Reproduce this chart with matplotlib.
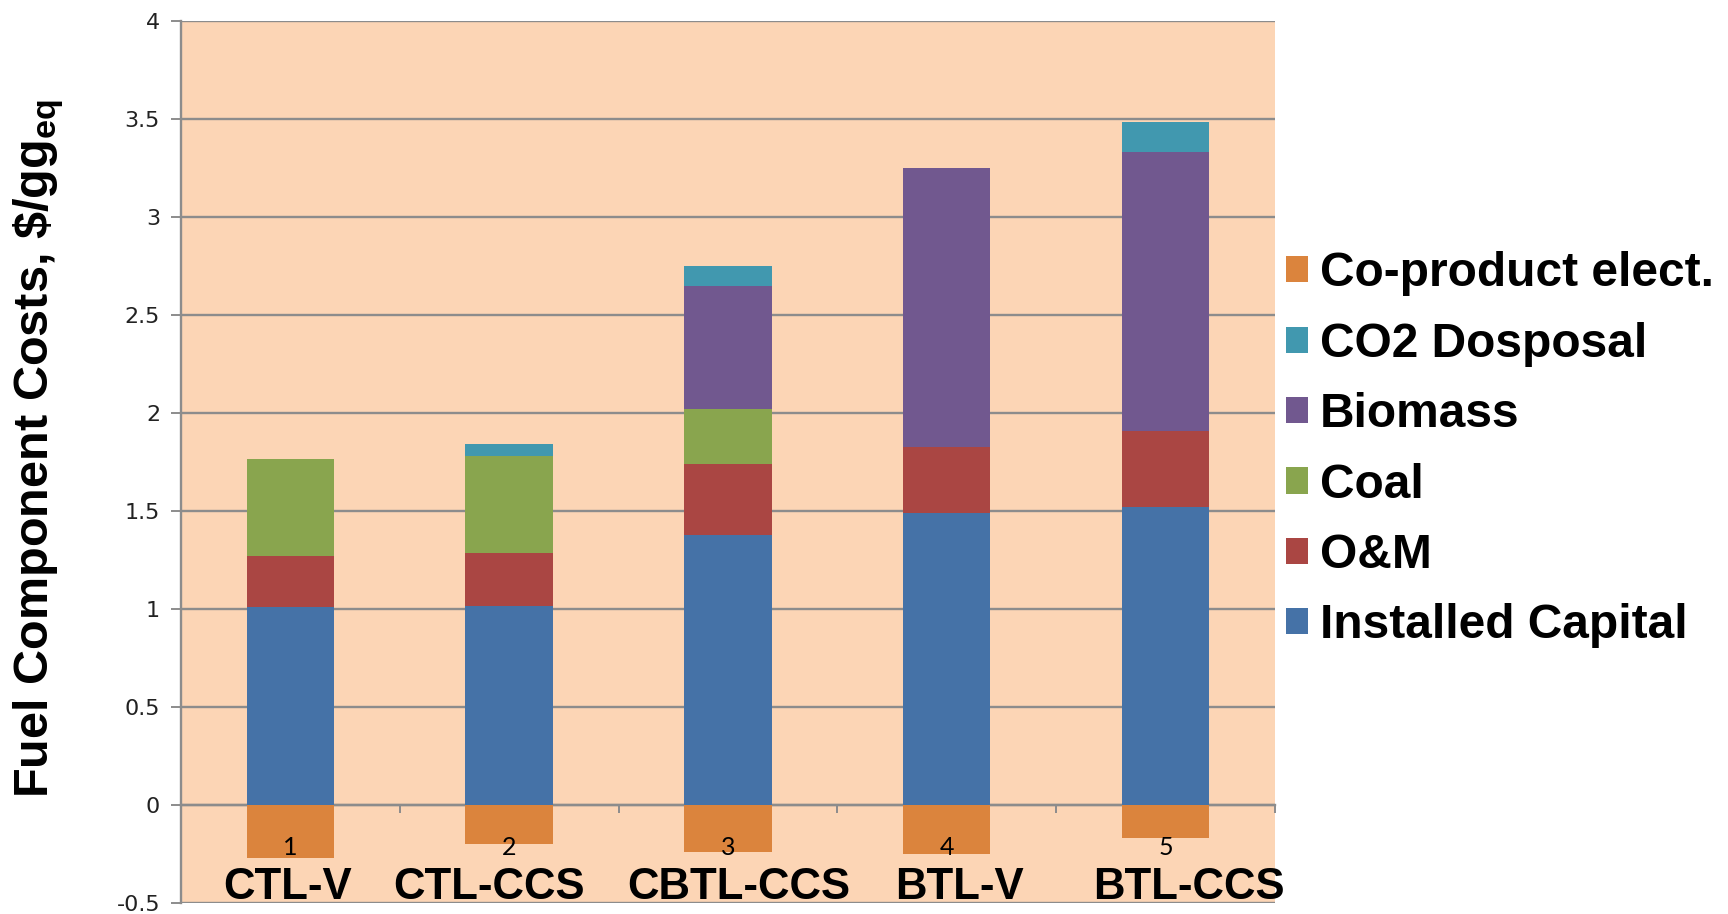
import matplotlib
matplotlib.use("Agg")
import matplotlib.pyplot as plt
from matplotlib import font_manager
from matplotlib.patches import Patch
import numpy as np

# condensed face for the axis title if the system has one
try:
    font_manager.findfont("Liberation Sans Narrow", fallback_to_default=False)
    title_family, title_size = "Liberation Sans Narrow", 41
except ValueError:
    title_family, title_size = "Liberation Sans", 35

plt.rcParams['mathtext.fontset'] = 'custom'
plt.rcParams['mathtext.rm'] = title_family + ':bold'

# fuel pathways and their cost components ($/gge)
pathways = ["CTL-V", "CTL-CCS", "CBTL-CCS", "BTL-V", "BTL-CCS"]
case_numbers = ["1", "2", "3", "4", "5"]

installed_capital = [1.010, 1.017, 1.379, 1.490, 1.518]
o_and_m = [0.260, 0.268, 0.361, 0.338, 0.392]
coal = [0.495, 0.498, 0.283, 0.0, 0.0]
biomass = [0.0, 0.0, 0.626, 1.422, 1.420]
co2_disposal = [0.0, 0.059, 0.100, 0.0, 0.155]
coproduct_elect = [-0.271, -0.198, -0.240, -0.250, -0.168]

# stacking order bottom -> top
stack = [
    ("Installed Capital", installed_capital, "#4572A7"),
    ("O&M", o_and_m, "#AA4643"),
    ("Coal", coal, "#89A54E"),
    ("Biomass", biomass, "#71588F"),
    ("CO2 Dosposal", co2_disposal, "#4198AF"),
]
coprod_color = "#DB843D"

# horizontal nudges for the big pathway names under each bar
name_offsets = [-0.013, -0.09, 0.05, 0.06, 0.105]

fig = plt.figure(figsize=(17.28, 9.14), dpi=100)
ax = fig.add_axes([0.1047, 0.0120, 0.6331, 0.9650])
ax.set_facecolor("#FCD5B5")

x = np.arange(len(pathways))
width = 0.4
bottom = np.zeros(len(pathways))
for name, vals, col in stack:
    vals = np.array(vals)
    ax.bar(x, vals, width, bottom=bottom, color=col, edgecolor="none", zorder=3)
    bottom += vals
ax.bar(x, coproduct_elect, width, color=coprod_color, edgecolor="none", zorder=3)

ax.set_xlim(-0.5, len(pathways) - 0.5)
ax.set_ylim(-0.5, 4)
ax.set_yticks(np.arange(-0.5, 4.01, 0.5))
ax.set_yticklabels(["-0.5", "0", "0.5", "1", "1.5", "2", "2.5", "3", "3.5", "4"])
ax.grid(axis="y", color="#8C8C8C", linewidth=1.7, zorder=1)
ax.set_axisbelow(True)
ax.tick_params(axis="y", direction="out", length=7, width=1.4, color="#8C8C8C",
               labelsize=16, pad=8, labelcolor="#222222")

# x axis crosses at zero
for s in ("top", "right"):
    ax.spines[s].set_visible(False)
ax.spines["bottom"].set_position(("data", 0))
ax.spines["bottom"].set_color("#8C8C8C")
ax.spines["bottom"].set_linewidth(1.7)
ax.spines["left"].set_color("#8C8C8C")
ax.spines["left"].set_linewidth(1.7)

ax.set_xticks(x)
ax.set_xticklabels([])
ax.tick_params(axis="x", which="major", length=0)
ax.set_xticks(np.arange(-0.5, len(pathways), 1.0), minor=True)
ax.tick_params(axis="x", which="minor", direction="out", length=6, width=1.4,
               color="#8C8C8C")

# case numbers sit on top of the negative bars, names below
for xi, num in zip(x, case_numbers):
    ax.text(xi, -0.215, num, ha="center", va="center", fontsize=18,
            family="Lato", zorder=5)
for xi, off, name in zip(x, name_offsets, pathways):
    ax.text(xi + off, -0.478, name, ha="center", va="baseline",
            fontsize=31.5, fontweight="bold", family="Liberation Sans", zorder=5)

fig.text(0.0223, 0.509, r"Fuel Component Costs, \$/gg$_{\mathrm{eq}}$",
         rotation=90, ha="center", va="center", fontsize=title_size,
         family=title_family, fontweight="bold")

handles = [Patch(facecolor=coprod_color, edgecolor="none", label="Co-product elect.")]
for name, vals, col in reversed(stack):
    handles.append(Patch(facecolor=col, edgecolor="none", label=name))
fig.legend(handles=handles, loc="upper left", bbox_to_anchor=(0.744, 0.725),
           frameon=False, borderpad=0, borderaxespad=0,
           prop={"family": "Liberation Sans", "weight": "bold", "size": 34.5},
           handlelength=0.46, handleheight=0.46, handletextpad=0.25,
           labelspacing=0.53)

fig.savefig("out.png", dpi=100, facecolor="white")
